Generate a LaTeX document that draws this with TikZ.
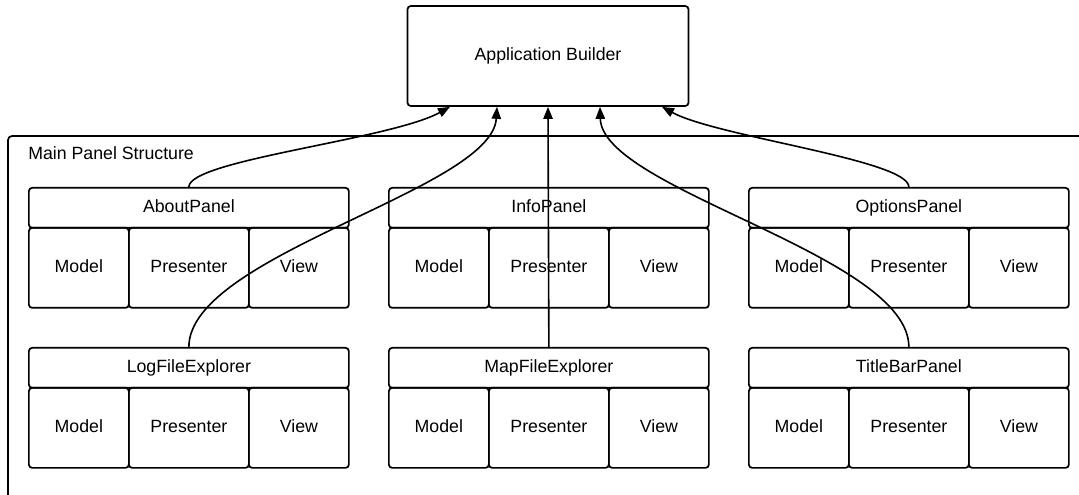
\documentclass[tikz,border=0pt]{standalone}
\usepackage{fontspec}
\setmainfont{Liberation Sans}
\usetikzlibrary{arrows.meta,calc}

\begin{document}
\begin{tikzpicture}[x=0.75pt,y=0.75pt,yscale=-1,xscale=1,
  every node/.style={font=\fontsize{13.3}{16}\selectfont, inner sep=0.75pt, text height=9.5pt, text depth=2.7pt},
  box/.style={draw, line width=1.3pt, rounded corners=2.5pt},
  titlebar/.style={box, anchor=north west, minimum width=240pt, minimum height=30pt},
  cell/.style={box, anchor=north west, minimum height=60pt},
  narrowcell/.style={cell, minimum width=75pt},
  widecell/.style={cell, minimum width=90pt},
  link/.style={line width=1.2pt, -{Triangle[length=9pt,width=7pt]}}]
%set diagram size: 1079 x 495
\path[use as bounding box, clip] (0,0) rectangle (1079,495);

%Shape: Rectangle [Application Builder]
\node[box, minimum width=210.75pt, minimum height=75pt] (ab) at (548,56) {Application Builder};

%Shape: Rectangle [Main Panel Structure, runs off the page]
\draw[line width=1.3pt, rounded corners=3pt] (8,136) rectangle (1100,520);
% Text Node
\node[anchor=west] (mainlabel) at (27,155) {Main Panel Structure};

%Panel: AboutPanel
\node[titlebar] (about) at (28,187) {AboutPanel};
\node[narrowcell] (aboutM) at (28,227) {Model};
\node[widecell] (aboutP) at (128,227) {Presenter};
\node[narrowcell] (aboutV) at (248,227) {View};
%Panel: InfoPanel
\node[titlebar] (info) at (388,187) {InfoPanel};
\node[narrowcell] (infoM) at (388,227) {Model};
\node[widecell] (infoP) at (488,227) {Presenter};
\node[narrowcell] (infoV) at (608,227) {View};
%Panel: OptionsPanel
\node[titlebar] (options) at (748,187) {OptionsPanel};
\node[narrowcell] (optionsM) at (748,227) {Model};
\node[widecell] (optionsP) at (848,227) {Presenter};
\node[narrowcell] (optionsV) at (968,227) {View};

%Panel: LogFileExplorer
\node[titlebar] (logfile) at (28,347) {LogFileExplorer};
\node[narrowcell] (logfileM) at (28,387) {Model};
\node[widecell] (logfileP) at (128,387) {Presenter};
\node[narrowcell] (logfileV) at (248,387) {View};
%Panel: MapFileExplorer
\node[titlebar] (mapfile) at (388,347) {MapFileExplorer};
\node[narrowcell] (mapfileM) at (388,387) {Model};
\node[widecell] (mapfileP) at (488,387) {Presenter};
\node[narrowcell] (mapfileV) at (608,387) {View};
%Panel: TitleBarPanel
\node[titlebar] (titlebar) at (748,347) {TitleBarPanel};
\node[narrowcell] (titlebarM) at (748,387) {Model};
\node[widecell] (titlebarP) at (848,387) {Presenter};
\node[narrowcell] (titlebarV) at (968,387) {View};

%Curves into Application Builder
\draw[link] (about.north) .. controls +(0,-27) and +(-60,33) .. ($(ab.south)+(-98,0)$);
\draw[link] (logfile.north) .. controls +(0,-92) and +(-5,83) .. ($(ab.south)+(-51,0)$);
\draw[link] (mapfile.north) -- (ab.south);
\draw[link] (titlebar.north) .. controls +(0,-92) and +(2,83) .. ($(ab.south)+(52,0)$);
\draw[link] (options.north) .. controls +(0,-27) and +(55,30) .. ($(ab.south)+(114,0)$);
\end{tikzpicture}
\end{document}
